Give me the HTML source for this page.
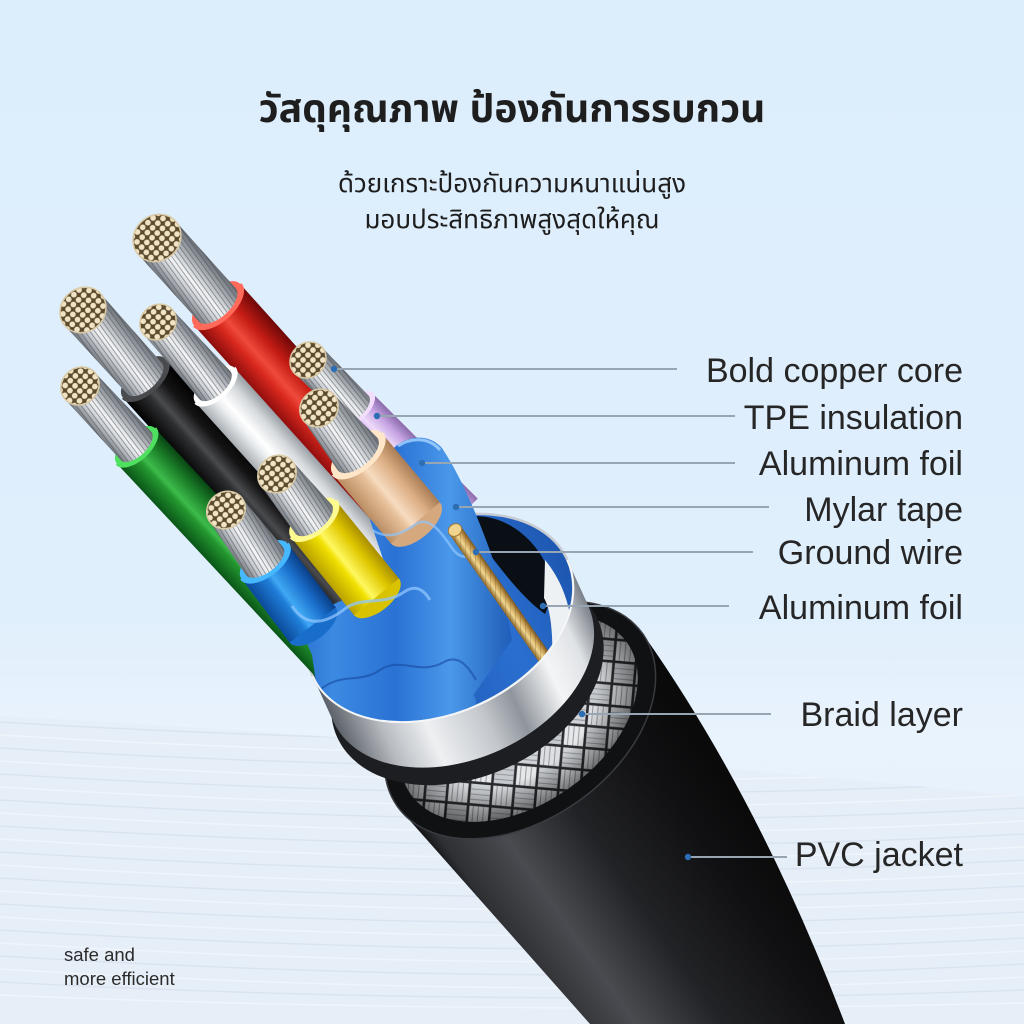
<!DOCTYPE html>
<html><head><meta charset="utf-8">
<style>
html,body{margin:0;padding:0;width:1024px;height:1024px;overflow:hidden;background:#dfeefb;}
svg{display:block}
.lbl{font-family:"Liberation Sans",Arial,sans-serif;font-size:34px;fill:#262626;text-anchor:end}
.th{font-family:"Liberation Sans","Noto Sans Thai","Noto Sans Thai UI","Loma","Garuda","Tlwg Typo","Sarabun","Kinnari","Norasi","Noto Sans CJK SC",sans-serif;text-anchor:middle;fill:#1e1e1e}
</style></head>
<body>
<svg width="1024" height="1024" viewBox="0 0 1024 1024" xmlns="http://www.w3.org/2000/svg">
<defs>
  <clipPath id="page"><rect x="0" y="0" width="1024" height="1024"/></clipPath>
  <linearGradient id="bg" x1="0" y1="0" x2="0" y2="1">
    <stop offset="0" stop-color="#dcedfc"/>
    <stop offset="0.6" stop-color="#e0effc"/>
    <stop offset="0.72" stop-color="#e9f3fd"/>
    <stop offset="1" stop-color="#e6eff9"/>
  </linearGradient>
  <clipPath id="waveClip"><path d="M0,716 C300,732 650,760 1024,796 L1024,1024 L0,1024 Z"/></clipPath>

  <linearGradient id="gJacket" gradientUnits="userSpaceOnUse" x1="478" y1="922" x2="711" y2="759">
    <stop offset="0" stop-color="#0c0c0d"/>
    <stop offset="0.06" stop-color="#2f3034"/>
    <stop offset="0.25" stop-color="#4a4b50"/>
    <stop offset="0.5" stop-color="#222326"/>
    <stop offset="0.8" stop-color="#111113"/>
    <stop offset="1" stop-color="#0a0a0b"/>
  </linearGradient>
  <pattern id="braid" width="34" height="34" patternUnits="userSpaceOnUse" patternTransform="rotate(40) scale(1.3)">
    <rect width="34" height="34" fill="#2a2b2e"/>
    <rect x="1" y="1" width="15" height="15" fill="#e6e7e9"/>
    <rect x="18" y="18" width="15" height="15" fill="#dcdee1"/>
    <rect x="18" y="1" width="15" height="15" fill="#c6c9cd"/>
    <rect x="1" y="18" width="15" height="15" fill="#cfd2d6"/>
    <g stroke="#8d9197" stroke-width="0.7">
      <line x1="4" y1="1" x2="4" y2="16"/><line x1="8" y1="1" x2="8" y2="16"/><line x1="12" y1="1" x2="12" y2="16"/>
      <line x1="21" y1="18" x2="21" y2="33"/><line x1="25" y1="18" x2="25" y2="33"/><line x1="29" y1="18" x2="29" y2="33"/>
      <line x1="18" y1="5" x2="33" y2="5"/><line x1="18" y1="9" x2="33" y2="9"/><line x1="18" y1="13" x2="33" y2="13"/>
      <line x1="1" y1="22" x2="16" y2="22"/><line x1="1" y1="26" x2="16" y2="26"/><line x1="1" y1="30" x2="16" y2="30"/>
    </g>
  </pattern>
  <radialGradient id="braidShade" cx="0.5" cy="0.5" r="0.5">
    <stop offset="0.65" stop-color="#000" stop-opacity="0"/>
    <stop offset="1" stop-color="#000" stop-opacity="0.5"/>
  </radialGradient>
  <linearGradient id="gInterior" gradientUnits="userSpaceOnUse" x1="-140" y1="0" x2="140" y2="0">
    <stop offset="0" stop-color="#16402a"/>
    <stop offset="0.2" stop-color="#1d56b0"/>
    <stop offset="0.7" stop-color="#2a6fd0"/>
    <stop offset="1" stop-color="#1d56b0"/>
  </linearGradient>
  <linearGradient id="gSilver" gradientUnits="userSpaceOnUse" x1="-140" y1="0" x2="140" y2="0">
    <stop offset="0" stop-color="#5c6169"/>
    <stop offset="0.15" stop-color="#b8bcc1"/>
    <stop offset="0.3" stop-color="#eef0f2"/>
    <stop offset="0.5" stop-color="#c3c7cc"/>
    <stop offset="0.62" stop-color="#8f959c"/>
    <stop offset="0.78" stop-color="#f4f5f6"/>
    <stop offset="0.9" stop-color="#e0e3e6"/>
    <stop offset="1" stop-color="#7a8088"/>
  </linearGradient>
  <clipPath id="wclip">
    <polygon points="0,0 1024,0 1024,351.7 0,818.6"/>
    <ellipse transform="translate(440,618) rotate(-24.5)" cx="0" cy="0" rx="140" ry="95"/>
  </clipPath>

  <linearGradient id="gStrand" x1="0" y1="0" x2="1" y2="0">
    <stop offset="0" stop-color="#6f747b"/>
    <stop offset="0.25" stop-color="#c9cdd2"/>
    <stop offset="0.45" stop-color="#f5f6f7"/>
    <stop offset="0.7" stop-color="#b4b9be"/>
    <stop offset="1" stop-color="#676c73"/>
  </linearGradient>
  <pattern id="sLines" width="4" height="20" patternUnits="userSpaceOnUse" patternTransform="rotate(6)">
    <line x1="1" y1="0" x2="1" y2="20" stroke="#454a52" stroke-width="0.9" stroke-opacity="0.55"/>
  </pattern>
  <pattern id="copper" width="7" height="7" patternUnits="userSpaceOnUse">
    <rect width="7" height="7" fill="#5b4a2e"/>
    <circle cx="3.5" cy="3.5" r="2.9" fill="#f1e4c4"/>
  </pattern>
  <linearGradient id="gGold" x1="0" y1="0" x2="1" y2="0">
    <stop offset="0" stop-color="#8a6426"/>
    <stop offset="0.4" stop-color="#f2d892"/>
    <stop offset="0.7" stop-color="#c9a055"/>
    <stop offset="1" stop-color="#7a5520"/>
  </linearGradient>
  <pattern id="goldLines" width="5" height="5" patternUnits="userSpaceOnUse" patternTransform="rotate(35)">
    <line x1="0" y1="0" x2="0" y2="5" stroke="#6e4c1a" stroke-width="1" stroke-opacity="0.5"/>
  </pattern>

  <linearGradient id="gRed" x1="0" y1="0" x2="1" y2="0">
    <stop offset="0" stop-color="#8a0c0c"/><stop offset="0.3" stop-color="#d8281e"/><stop offset="0.45" stop-color="#ef4a3c"/><stop offset="0.7" stop-color="#c41c14"/><stop offset="1" stop-color="#6e0808"/>
  </linearGradient>
  <linearGradient id="gBlack" x1="0" y1="0" x2="1" y2="0">
    <stop offset="0" stop-color="#000"/><stop offset="0.35" stop-color="#2e2f31"/><stop offset="0.45" stop-color="#4a4b4e"/><stop offset="0.7" stop-color="#141415"/><stop offset="1" stop-color="#000"/>
  </linearGradient>
  <linearGradient id="gWhite" x1="0" y1="0" x2="1" y2="0">
    <stop offset="0" stop-color="#a9aeb3"/><stop offset="0.3" stop-color="#e9ecee"/><stop offset="0.45" stop-color="#ffffff"/><stop offset="0.75" stop-color="#d6dadd"/><stop offset="1" stop-color="#9aa0a6"/>
  </linearGradient>
  <linearGradient id="gGreen" x1="0" y1="0" x2="1" y2="0">
    <stop offset="0" stop-color="#0a5518"/><stop offset="0.35" stop-color="#23962f"/><stop offset="0.45" stop-color="#3dbb4b"/><stop offset="0.75" stop-color="#1b7e28"/><stop offset="1" stop-color="#094614"/>
  </linearGradient>
  <linearGradient id="gPurple" x1="0" y1="0" x2="1" y2="0">
    <stop offset="0" stop-color="#9a78bc"/><stop offset="0.35" stop-color="#dcc2f2"/><stop offset="0.45" stop-color="#eedcfa"/><stop offset="0.75" stop-color="#c4a2e2"/><stop offset="1" stop-color="#8a6aaa"/>
  </linearGradient>
  <linearGradient id="gPeach" x1="0" y1="0" x2="1" y2="0">
    <stop offset="0" stop-color="#b98d63"/><stop offset="0.35" stop-color="#e8c29c"/><stop offset="0.45" stop-color="#f7dcc0"/><stop offset="0.75" stop-color="#dcae84"/><stop offset="1" stop-color="#a87c55"/>
  </linearGradient>
  <linearGradient id="gYellow" x1="0" y1="0" x2="1" y2="0">
    <stop offset="0" stop-color="#b8a000"/><stop offset="0.35" stop-color="#f0e000"/><stop offset="0.45" stop-color="#fff860"/><stop offset="0.75" stop-color="#e0c800"/><stop offset="1" stop-color="#a88e00"/>
  </linearGradient>
  <linearGradient id="gBlue" x1="0" y1="0" x2="1" y2="0">
    <stop offset="0" stop-color="#0c4a9a"/><stop offset="0.35" stop-color="#1f7ed8"/><stop offset="0.45" stop-color="#40a8f4"/><stop offset="0.75" stop-color="#1a6ecb"/><stop offset="1" stop-color="#0a3f88"/>
  </linearGradient>
  <linearGradient id="gWrap" gradientUnits="userSpaceOnUse" x1="270" y1="0" x2="520" y2="0">
    <stop offset="0" stop-color="#1c5cbc"/><stop offset="0.25" stop-color="#3b8ae2"/><stop offset="0.5" stop-color="#2a72d4"/><stop offset="0.72" stop-color="#4a98ea"/><stop offset="1" stop-color="#1a56b2"/>
  </linearGradient>
</defs>

<g clip-path="url(#page)">
<!-- background -->
<rect width="1024" height="1024" fill="url(#bg)"/>
<path d="M0,716 C300,732 650,760 1024,796 L1024,1024 L0,1024 Z" fill="#e6eef8"/>
<g clip-path="url(#waveClip)" fill="none" stroke-width="1.5" opacity="0.75">
  <path d="M0,722 C300,740 650,750 1024,730" stroke="#d6e1ee"/>
  <path d="M0,735 C300,753 650,763 1024,743" stroke="#f4f8fd"/>
  <path d="M0,748 C300,766 650,776 1024,756" stroke="#d6e1ee"/>
  <path d="M0,761 C300,779 650,789 1024,769" stroke="#f4f8fd"/>
  <path d="M0,774 C300,792 650,802 1024,782" stroke="#d6e1ee"/>
  <path d="M0,787 C300,805 650,815 1024,795" stroke="#f4f8fd"/>
  <path d="M0,800 C300,818 650,828 1024,808" stroke="#d6e1ee"/>
  <path d="M0,813 C300,831 650,841 1024,821" stroke="#f4f8fd"/>
  <path d="M0,826 C300,844 650,854 1024,834" stroke="#d6e1ee"/>
  <path d="M0,839 C300,857 650,867 1024,847" stroke="#f4f8fd"/>
  <path d="M0,852 C300,870 650,880 1024,860" stroke="#d6e1ee"/>
  <path d="M0,865 C300,883 650,893 1024,873" stroke="#f4f8fd"/>
  <path d="M0,878 C300,896 650,906 1024,886" stroke="#d6e1ee"/>
  <path d="M0,891 C300,909 650,919 1024,899" stroke="#f4f8fd"/>
  <path d="M0,904 C300,922 650,932 1024,912" stroke="#d6e1ee"/>
  <path d="M0,917 C300,935 650,945 1024,925" stroke="#f4f8fd"/>
  <path d="M0,930 C300,948 650,958 1024,938" stroke="#d6e1ee"/>
  <path d="M0,943 C300,961 650,971 1024,951" stroke="#f4f8fd"/>
  <path d="M0,956 C300,974 650,984 1024,964" stroke="#d6e1ee"/>
  <path d="M0,969 C300,987 650,997 1024,977" stroke="#f4f8fd"/>
  <path d="M0,982 C300,998 650,1004 1024,990" stroke="#d6e1ee"/>
  <path d="M0,995 C300,1008 650,1012 1024,1003" stroke="#f4f8fd"/>
</g>

<!-- jacket -->
<path d="M397,806 L590,1024 L845,1024 Q760,800 643,634 Z" fill="url(#gJacket)"/>
<g transform="translate(520,720) rotate(-35)">
  <ellipse cx="0" cy="0" rx="150" ry="100" fill="#101113" stroke="#3a3b40" stroke-width="1.5"/>
  <ellipse cx="0" cy="-2" rx="132" ry="86" fill="url(#braid)"/>
  <ellipse cx="0" cy="-2" rx="132" ry="86" fill="url(#braidShade)"/>
</g>

<!-- foil tube back -->
<g transform="translate(440,618) rotate(-24.5)">
  <ellipse cx="0" cy="66" rx="143" ry="98" fill="#1d1e21"/>
  <ellipse cx="0" cy="0" rx="140" ry="95" fill="url(#gInterior)" stroke="#c8ccd2" stroke-width="2.5"/>
</g>
<!-- dark hollow and inner foil wall -->
<path d="M462,518 C495,510 528,530 545,562 C552,580 552,600 545,614 C525,600 505,575 485,548 Z" fill="#0a0e15"/>
<path d="M545,560 C560,578 570,602 572,630 C569,650 560,662 552,664 C553,640 552,612 544,598 Z" fill="#eef1f4"/>

<!-- wires -->
<g clip-path="url(#wclip)">
  <!-- red -->
  <g transform="translate(157,238) rotate(-42)">
    <rect x="-31" y="90" width="62" height="320" fill="url(#gRed)"/>
    <ellipse cx="0" cy="90" rx="31" ry="15.5" fill="#ff6a5a"/>
    <path d="M-25,0 L25,0 L24.8,90 A24.8,12.4 0 0 1 -24.8,90 Z" fill="url(#gStrand)"/>
    <path d="M-25,0 L25,0 L24.8,90 A24.8,12.4 0 0 1 -24.8,90 Z" fill="url(#sLines)"/>
    <path d="M-31,90 A31,15.5 0 0 0 31,90" fill="none" stroke="#ff6a5a" stroke-width="3"/>
    <ellipse cx="0" cy="0" rx="25" ry="22.5" fill="url(#copper)" stroke="#d9c9a4" stroke-width="1.5"/>
  </g>
  <!-- black -->
  <g transform="translate(83,310) rotate(-42)">
    <rect x="-29" y="92" width="58" height="340" fill="url(#gBlack)"/>
    <ellipse cx="0" cy="92" rx="29" ry="14.5" fill="#4a4b4e"/>
    <path d="M-24,0 L24,0 L23.2,92 A23.2,11.6 0 0 1 -23.2,92 Z" fill="url(#gStrand)"/>
    <path d="M-24,0 L24,0 L23.2,92 A23.2,11.6 0 0 1 -23.2,92 Z" fill="url(#sLines)"/>
    <path d="M-29,92 A29,14.5 0 0 0 29,92" fill="none" stroke="#4a4b4e" stroke-width="3"/>
    <ellipse cx="0" cy="0" rx="24" ry="21.6" fill="url(#copper)" stroke="#d9c9a4" stroke-width="1.5"/>
  </g>
  <!-- white -->
  <g transform="translate(158,322) rotate(-42)">
    <rect x="-26" y="85" width="52" height="300" fill="url(#gWhite)"/>
    <ellipse cx="0" cy="85" rx="26" ry="13" fill="#ffffff"/>
    <path d="M-19,0 L19,0 L20.8,85 A20.8,10.4 0 0 1 -20.8,85 Z" fill="url(#gStrand)"/>
    <path d="M-19,0 L19,0 L20.8,85 A20.8,10.4 0 0 1 -20.8,85 Z" fill="url(#sLines)"/>
    <path d="M-26,85 A26,13 0 0 0 26,85" fill="none" stroke="#ffffff" stroke-width="3"/>
    <ellipse cx="0" cy="0" rx="19" ry="17" fill="url(#copper)" stroke="#d9c9a4" stroke-width="1.5"/>
  </g>
  <!-- green -->
  <g transform="translate(80,386) rotate(-43)">
    <rect x="-26" y="82" width="52" height="320" fill="url(#gGreen)"/>
    <ellipse cx="0" cy="82" rx="26" ry="13" fill="#4fe060"/>
    <path d="M-20,0 L20,0 L20.8,82 A20.8,10.4 0 0 1 -20.8,82 Z" fill="url(#gStrand)"/>
    <path d="M-20,0 L20,0 L20.8,82 A20.8,10.4 0 0 1 -20.8,82 Z" fill="url(#sLines)"/>
    <path d="M-26,82 A26,13 0 0 0 26,82" fill="none" stroke="#4fe060" stroke-width="3"/>
    <ellipse cx="0" cy="0" rx="20" ry="18" fill="url(#copper)" stroke="#d9c9a4" stroke-width="1.5"/>
  </g>
  <!-- purple -->
  <g transform="translate(308,360) rotate(-45)">
    <rect x="-22" y="68" width="44" height="150" fill="url(#gPurple)"/>
    <ellipse cx="0" cy="68" rx="22" ry="11" fill="#f2defc"/>
    <path d="M-19,0 L19,0 L17.6,68 A17.6,8.8 0 0 1 -17.6,68 Z" fill="url(#gStrand)"/>
    <path d="M-19,0 L19,0 L17.6,68 A17.6,8.8 0 0 1 -17.6,68 Z" fill="url(#sLines)"/>
    <path d="M-22,68 A22,11 0 0 0 22,68" fill="none" stroke="#f2defc" stroke-width="3"/>
    <ellipse cx="0" cy="0" rx="19" ry="17" fill="url(#copper)" stroke="#d9c9a4" stroke-width="1.5"/>
  </g>
  <!-- wrap B (right pair) -->
  <path d="M370,520 L392,450 C404,436 428,432 442,448 C462,478 482,525 500,580 L512,640 L470,700 L430,660 L390,580 Z" fill="url(#gWrap)"/>
  <path d="M398,446 C410,438 428,436 440,450" fill="none" stroke="#a6d4ff" stroke-width="3" opacity="0.8"/>
  <!-- wrap A (left pair) -->
  <path d="M283,588 C292,612 312,618 334,604 C352,594 370,600 388,586 C400,578 414,576 424,590 L476,700 L470,780 L330,780 L312,655 Z" fill="url(#gWrap)"/>
  <!-- peach -->
  <g transform="translate(319,408) rotate(-40)">
    <ellipse cx="0" cy="150" rx="32" ry="16" fill="#d6a87d"/>
    <rect x="-32" y="60" width="64" height="90" fill="url(#gPeach)"/>
    <ellipse cx="0" cy="60" rx="32" ry="16" fill="#ffe6c8"/>
    <path d="M-20,0 L20,0 L25.6,60 A25.6,12.8 0 0 1 -25.6,60 Z" fill="url(#gStrand)"/>
    <path d="M-20,0 L20,0 L25.6,60 A25.6,12.8 0 0 1 -25.6,60 Z" fill="url(#sLines)"/>
    <path d="M-32,60 A32,16 0 0 0 32,60" fill="none" stroke="#ffe6c8" stroke-width="3"/>
    <ellipse cx="0" cy="0" rx="20" ry="18" fill="url(#copper)" stroke="#d9c9a4" stroke-width="1.5"/>
  </g>
  <!-- yellow -->
  <g transform="translate(277,474) rotate(-39)">
    <ellipse cx="0" cy="158" rx="29" ry="14.5" fill="#d9c200"/>
    <rect x="-29" y="58" width="58" height="100" fill="url(#gYellow)"/>
    <ellipse cx="0" cy="58" rx="29" ry="14.5" fill="#fffa90"/>
    <path d="M-20,0 L20,0 L23.2,58 A23.2,11.6 0 0 1 -23.2,58 Z" fill="url(#gStrand)"/>
    <path d="M-20,0 L20,0 L23.2,58 A23.2,11.6 0 0 1 -23.2,58 Z" fill="url(#sLines)"/>
    <path d="M-29,58 A29,14.5 0 0 0 29,58" fill="none" stroke="#fffa90" stroke-width="3"/>
    <ellipse cx="0" cy="0" rx="20" ry="18" fill="url(#copper)" stroke="#d9c9a4" stroke-width="1.5"/>
  </g>
  <!-- blue -->
  <g transform="translate(226,510) rotate(-37)">
    <ellipse cx="0" cy="144" rx="29" ry="14.5" fill="#1a6ecb"/>
    <rect x="-29" y="64" width="58" height="80" fill="url(#gBlue)"/>
    <ellipse cx="0" cy="64" rx="29" ry="14.5" fill="#46b8ff"/>
    <path d="M-20,0 L20,0 L23.2,64 A23.2,11.6 0 0 1 -23.2,64 Z" fill="url(#gStrand)"/>
    <path d="M-20,0 L20,0 L23.2,64 A23.2,11.6 0 0 1 -23.2,64 Z" fill="url(#sLines)"/>
    <path d="M-29,64 A29,14.5 0 0 0 29,64" fill="none" stroke="#46b8ff" stroke-width="3"/>
    <ellipse cx="0" cy="0" rx="20" ry="18" fill="url(#copper)" stroke="#d9c9a4" stroke-width="1.5"/>
  </g>
  <!-- translucent mylar edges -->
  <path d="M292,606 C306,628 326,624 346,608 C364,596 384,606 404,592 C416,584 424,590 430,600" fill="none" stroke="#8fc6ff" stroke-width="3" opacity="0.75"/>
  <path d="M372,530 C388,540 402,534 416,524 C428,516 440,530 452,548 C460,560 470,558 480,552" fill="none" stroke="#8fc6ff" stroke-width="2.5" opacity="0.7"/>
  <path d="M320,690 C340,672 360,684 380,670 C400,656 420,676 444,662 C458,654 468,666 476,680" fill="none" stroke="#1848a0" stroke-width="2" opacity="0.6"/>
  <!-- ground wire -->
  <g transform="translate(455,530) rotate(-35)">
    <rect x="-7" y="0" width="14" height="185" fill="url(#gGold)"/>
    <rect x="-7" y="0" width="14" height="185" fill="url(#goldLines)"/>
    <ellipse cx="0" cy="0" rx="7" ry="6" fill="#f0d48e" stroke="#9c7634" stroke-width="1"/>
  </g>
</g>

<!-- foil tube front band -->
<g transform="translate(440,618) rotate(-24.5)">
  <path d="M-140,0 A140,95 0 0 0 140,0 L140,50 A140,95 0 0 1 -140,50 Z" fill="url(#gSilver)"/>
  <path d="M-140,0 A140,95 0 0 0 140,0" fill="none" stroke="#f4f6f8" stroke-width="2"/>
</g>

<!-- label leader lines -->
<g stroke="#98a6b4" stroke-width="2">
  <line x1="334" y1="369" x2="677" y2="369"/>
  <line x1="377" y1="416" x2="735" y2="416"/>
  <line x1="422" y1="463" x2="735" y2="463"/>
  <line x1="456" y1="507" x2="769" y2="507"/>
  <line x1="476" y1="552" x2="753" y2="552"/>
  <line x1="543" y1="606" x2="729" y2="606"/>
  <line x1="582" y1="714" x2="771" y2="714"/>
  <line x1="688" y1="857" x2="787" y2="857"/>
</g>
<g fill="#2d6db4">
  <circle cx="334" cy="369" r="3.2"/>
  <circle cx="377" cy="416" r="3.2"/>
  <circle cx="422" cy="463" r="3.2"/>
  <circle cx="456" cy="507" r="3.2"/>
  <circle cx="476" cy="552" r="3.2"/>
  <circle cx="543" cy="606" r="3.2"/>
  <circle cx="582" cy="714" r="3.2"/>
  <circle cx="688" cy="857" r="3.2"/>
</g>

<!-- labels -->
<text class="lbl" x="963" y="382">Bold copper core</text>
<text class="lbl" x="963" y="429">TPE insulation</text>
<text class="lbl" x="963" y="475">Aluminum foil</text>
<text class="lbl" x="963" y="521">Mylar tape</text>
<text class="lbl" x="963" y="564">Ground wire</text>
<text class="lbl" x="963" y="619">Aluminum foil</text>
<text class="lbl" x="963" y="726">Braid layer</text>
<text class="lbl" x="963" y="866">PVC jacket</text>

<!-- headings -->
<text class="th" x="512" y="122" font-size="39" font-weight="bold">วัสดุคุณภาพ ป้องกันการรบกวน</text>
<text class="th" x="512" y="192" font-size="26">ด้วยเกราะป้องกันความหนาแน่นสูง</text>
<text class="th" x="512" y="228" font-size="26">มอบประสิทธิภาพสูงสุดให้คุณ</text>

<text x="64" y="961" font-family="Liberation Sans, Arial, sans-serif" font-size="18.5" fill="#2b2b2b">safe and</text>
<text x="64" y="985" font-family="Liberation Sans, Arial, sans-serif" font-size="18.5" fill="#2b2b2b">more efficient</text>
</g>
</svg>
</body></html>
